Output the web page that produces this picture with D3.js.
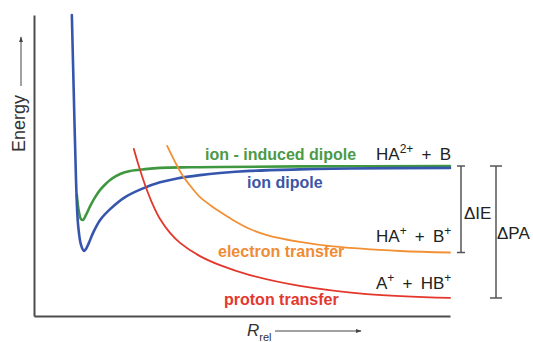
<!DOCTYPE html>
<html>
<head>
<meta charset="utf-8">
<script src="https://cdn.jsdelivr.net/npm/d3@7"></script>
<style>
    body { margin: 0; background: #fff; }
    svg { display: block; font-family: "Liberation Sans", Arial, sans-serif; }
    .curve { fill: none; stroke-linecap: round; stroke-linejoin: round; }
    .axis path { stroke: #4d4d4d; stroke-width: 2; }
    .bracket { stroke: #555; stroke-width: 1.5; fill: none; }
    .label { font-weight: bold; font-size: 16px; }
    .species { font-size: 17px; fill: #222; }
</style>
</head>
<body>
<svg width="533" height="342"></svg>
<script>
// Potential energy curves, R_rel (0-100) vs energy (0-100)
const blueR = [9.1, 9.6, 10.1, 10.6, 11.3, 12.0, 12.5, 13.2, 14.2, 15.9, 18.3, 21.9, 26.2, 30.3, 34.4, 39.9, 44.7, 51.9, 63.9, 76.0, 100];
const blueE = [100, 71.8, 45.2, 30.2, 23.6, 21.6, 22.3, 24.3, 27.6, 31.9, 35.5, 39.5, 42.4, 44.4, 45.7, 46.8, 47.5, 48.2, 48.7, 49.0, 49.2];

const greenR = [10.3, 10.8, 11.3, 11.8, 12.5, 13.5, 14.7, 15.9, 17.1, 18.3, 19.5, 20.7, 23.1, 26.7, 30.3, 37.5, 44.7, 63.9, 100];
const greenE = [40.2, 34.6, 32.2, 31.9, 33.6, 36.5, 39.5, 41.9, 43.7, 45.2, 46.3, 47.2, 48.2, 48.8, 49.2, 49.4, 49.5, 49.7, 49.8];

const orangeR = [32.0, 33.9, 35.8, 38.0, 39.9, 42.3, 44.7, 47.8, 51.9, 56.0, 63.9, 71.9, 88.0, 100];
const orangeE = [56.5, 51.2, 46.5, 42.5, 39.5, 36.9, 34.6, 31.9, 28.9, 26.9, 24.6, 23.1, 21.6, 21.1];

const redR = [24.0, 25.2, 26.7, 28.4, 30.3, 32.7, 35.1, 39.9, 44.7, 51.9, 63.9, 80.0, 100];
const redE = [55.5, 49.8, 43.5, 37.5, 32.2, 27.6, 24.3, 19.9, 16.9, 13.6, 10.0, 7.3, 6.0];

const curves = [
    { name: "ion - induced dipole", R: greenR, E: greenE, color: "#3f983f", text: "#4c9a46", width: 2.6 },
    { name: "ion dipole", R: blueR, E: blueE, color: "#3656ad", text: "#3a56a6", width: 2.6 },
    { name: "electron transfer", R: orangeR, E: orangeE, color: "#f29035", text: "#f08b35", width: 1.8 },
    { name: "proton transfer", R: redR, E: redE, color: "#e3372b", text: "#e4382e", width: 1.8 }
];

const x = d3.scaleLinear().domain([0, 100]).range([34, 450]);
const y = d3.scaleLinear().domain([0, 100]).range([316, 15]);

const svg = d3.select("svg");

const defs = svg.append("defs");
defs.append("marker")
    .attr("id", "head")
    .attr("viewBox", "0 0 10 10")
    .attr("refX", 9).attr("refY", 5)
    .attr("markerWidth", 6).attr("markerHeight", 6)
    .attr("orient", "auto")
    .append("path")
    .attr("d", "M0,1.5L10,5L0,8.5Z")
    .attr("fill", "#444");

// Axes (no ticks, just the lines)
svg.append("g")
    .attr("class", "axis")
    .attr("transform", `translate(0,${y(0)})`)
    .call(d3.axisBottom(x).tickValues([]).tickSizeOuter(0));

svg.append("g")
    .attr("class", "axis")
    .attr("transform", `translate(${x(0)},0)`)
    .call(d3.axisLeft(y).tickValues([]).tickSizeOuter(0));

// Curves
const line = d3.line()
    .x(d => x(d[0]))
    .y(d => y(d[1]))
    .curve(d3.curveCatmullRom.alpha(0.5));

svg.append("g")
    .selectAll("path")
    .data(curves)
    .enter().append("path")
    .attr("class", "curve")
    .attr("d", c => line(c.R.map((r, i) => [r, c.E[i]])))
    .attr("stroke", d => d.color)
    .attr("stroke-width", d => d.width);

// Curve labels
const labelPos = [[205, 160], [247, 188], [218, 257], [224, 305]];
svg.append("g")
    .selectAll("text")
    .data(curves)
    .enter().append("text")
    .attr("class", "label")
    .attr("x", (d, i) => labelPos[i][0])
    .attr("y", (d, i) => labelPos[i][1])
    .attr("fill", d => d.text)
    .text(d => d.name);

// Dissociation products, superscripts as tspans
const species = [
    { parts: [["HA", 0], ["2+", 1], [" + B", 0]], E: greenE[greenE.length - 1], dy: -6 },
    { parts: [["HA", 0], ["+", 1], [" + B", 0], ["+", 1]], E: orangeE[orangeE.length - 1], dy: -10 },
    { parts: [["A", 0], ["+", 1], [" + HB", 0], ["+", 1]], E: redE[redE.length - 1], dy: -9 }
];

species.forEach(s => {
    const t = svg.append("text")
        .attr("class", "species")
        .attr("x", 376)
        .attr("y", y(s.E) + s.dy)
        .attr("word-spacing", 3.5)
        .attr("xml:space", "preserve");
    let up = false;
    s.parts.forEach(([txt, sup]) => {
        const ts = t.append("tspan").text(txt);
        if (sup && !up) { ts.attr("dy", -7).attr("font-size", 12); up = true; }
        else if (sup) { ts.attr("font-size", 12); }
        else if (up) { ts.attr("dy", 7); up = false; }
    });
});

// Energy brackets
const topE = greenE[greenE.length - 1];
const brackets = [
    { label: "\u0394IE", lo: orangeE[orangeE.length - 1], dx: 11, half: 4, tx: 464, ty: 219 },
    { label: "\u0394PA", lo: redE[redE.length - 1], dx: 46, half: 6, tx: 497, ty: 239 }
];

brackets.forEach(b => {
    const bx = x(100) + b.dx;
    svg.append("path")
        .attr("class", "bracket")
        .attr("d", `M${bx - b.half},${y(topE)}H${bx + b.half}M${bx},${y(topE)}V${y(b.lo)}M${bx - b.half},${y(b.lo)}H${bx + b.half}`);
    svg.append("text")
        .attr("class", "species")
        .attr("x", b.tx)
        .attr("y", b.ty)
        .text(b.label);
});

// Axis titles with arrows
svg.append("text")
    .attr("transform", "translate(25,152) rotate(-90)")
    .attr("font-size", 18)
    .attr("fill", "#333")
    .text("Energy");

svg.append("line")
    .attr("x1", 21).attr("y1", 86)
    .attr("x2", 21).attr("y2", 37)
    .attr("stroke", "#444").attr("stroke-width", 1)
    .attr("marker-end", "url(#head)");

const rt = svg.append("text")
    .attr("x", 247)
    .attr("y", 336)
    .attr("font-size", 17)
    .attr("fill", "#333");
rt.append("tspan").attr("font-style", "italic").text("R");
rt.append("tspan").attr("font-size", 11).attr("dy", 5).text("rel");

svg.append("line")
    .attr("x1", 275).attr("y1", 331)
    .attr("x2", 361).attr("y2", 331)
    .attr("stroke", "#444").attr("stroke-width", 1)
    .attr("marker-end", "url(#head)");
</script>
</body>
</html>
